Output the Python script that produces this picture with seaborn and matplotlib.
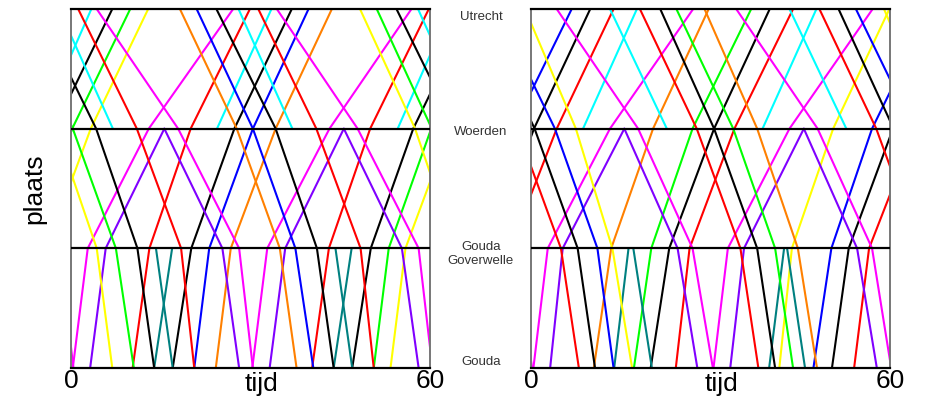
import matplotlib
matplotlib.use("Agg")
import matplotlib.pyplot as plt
import numpy as np
import pandas as pd
import seaborn as sns

# ---------------- data ----------------
# station index: 0 = Gouda, 1 = Gouda Goverwelle, 2 = Woerden, 3 = Utrecht
STATION_LABELS = ["Gouda", "Gouda\nGoverwelle", "Woerden", "Utrecht"]
TIME_TICKS = [0, 60]
TIME_TICK_LABELS = ["0", "60"]

COLOR_MAP = {
    "red": "#ff0000", "magenta": "#ff00ff", "purple": "#8000ff", "blue": "#0000ff",
    "black": "#000000", "cyan": "#00ffff", "green": "#00ff00", "yellow": "#ffff00",
    "orange": "#ff8000", "teal": "#008080",
}

# left panel: trains (times in minutes at successive stations, in travel order)
LEFT_COLORS = ["magenta", "purple", "red", "teal", "black", "blue", "orange", "cyan",
               "magenta", "purple", "red", "teal", "black", "green", "yellow", "cyan",
               "red", "magenta", "purple", "teal", "orange", "blue", "black", "cyan",
               "red", "magenta", "purple", "teal", "yellow", "green", "black", "cyan"]
LEFT_DIRS = ["up"] * 16 + ["down"] * 16
LEFT_START = [0, 0, 0, 0, 0, 0, 0, 2, 0, 0, 0, 0, 0, 0, 0, 2,
              3, 3, 2, 1, 3, 3, 3, 3, 3, 3, 2, 1, 3, 3, 3, 3]
LEFT_TIMES = [
    [0.3, 2.8, 13.0, 27.1], [3.2, 5.8, 15.6], [10.3, 13.1, 20.0, 29.9], [13.9, 16.9],
    [17.0, 20.1, 27.3, 36.9], [20.6, 23.1, 30.4, 39.7], [24.2, 26.7, 34.2, 43.6], [24.4, 33.5],
    [30.3, 32.8, 43.2, 56.9], [33.2, 35.8, 45.6], [40.3, 43.1, 50.0, 59.8], [43.9, 46.9],
    [47.0, 50.1, 57.2, 66.9], [50.6, 53.1, 60.2, 69.9], [53.4, 55.9, 63.3, 72.9], [54.6, 63.4],
    [1.2, 11.0, 18.4, 20.6], [4.3, 17.9, 28.1, 30.4], [15.6, 25.3, 28.1], [14.2, 17.0],
    [18.2, 27.7, 34.9, 37.7], [21.0, 30.4, 37.5, 40.5], [24.3, 34.2, 41.1, 43.9], [28.0, 37.0],
    [31.3, 41.0, 48.4, 50.6], [34.4, 47.9, 58.1, 60.4], [45.6, 55.3, 58.1], [44.2, 47.0],
    [48.3, 57.5, 64.3, 66.9], [51.1, 60.3, 67.5, 70.5], [54.4, 64.2, 71.1, 73.9], [58.0, 67.0],
]

# right panel
RIGHT_COLORS = ["magenta", "purple", "orange", "teal", "green", "black", "red", "cyan",
                "magenta", "purple", "yellow", "teal", "blue", "black", "red", "cyan",
                "yellow", "magenta", "purple", "cyan", "teal", "red", "black", "green",
                "orange", "magenta", "purple", "cyan", "teal", "red", "black", "blue"]
RIGHT_DIRS = ["up"] * 16 + ["down"] * 16
RIGHT_START = [0, 0, 0, 0, 0, 0, 0, 2, 0, 0, 0, 0, 0, 0, 0, 2,
               3, 3, 2, 3, 1, 3, 3, 3, 3, 3, 2, 3, 1, 3, 3, 3]
RIGHT_TIMES = [
    [0.4, 2.8, 13.2, 27.1], [3.2, 5.3, 15.6], [10.5, 13.4, 20.4, 29.7], [13.9, 16.3],
    [17.2, 20.1, 27.0, 36.8], [20.0, 23.1, 30.6, 39.9], [24.2, 26.5, 34.0, 43.8], [8.7, 17.7],
    [30.5, 32.9, 43.2, 57.1], [33.3, 35.6, 45.6], [41.5, 43.6, 50.5, 59.9], [39.8, 42.3],
    [47.2, 50.2, 57.0, 66.8], [50.3, 53.1, 60.5, 69.9], [54.0, 56.5, 64.3, 73.8], [38.7, 47.7],
    [59.0, 67.5, 73.6, 76.9], [4.3, 17.9, 27.0, 30.4], [15.6, 24.5, 27.8], [13.2, 22.7],
    [17.1, 20.2], [18.2, 27.7, 35.0, 38.0], [21.6, 30.6, 37.8, 40.8], [24.3, 33.8, 40.8, 43.8],
    [29.0, 37.8, 44.6, 47.8], [34.3, 47.9, 57.0, 60.2], [45.6, 54.5, 57.8], [43.2, 52.7],
    [42.8, 45.8], [48.2, 57.7, 65.0, 68.0], [51.4, 60.6, 67.8, 70.7], [54.3, 64.0, 71.1, 73.8],
]


def build_frame(colors, dirs, starts, times):
    rows, palette = [], {}
    for i, (c, d, s, tt) in enumerate(zip(colors, dirs, starts, times)):
        step = 1 if d == "up" else -1
        for k, shift in enumerate((-60, 0, 60)):
            key = f"{i}_{k}"
            palette[key] = COLOR_MAP[c]
            for j, t in enumerate(tt):
                rows.append((key, t + shift, s + step * j))
    return pd.DataFrame(rows, columns=["seg", "tijd", "plaats"]), palette


sns.set_theme(style="white")
plt.rcParams["font.family"] = ["Liberation Sans", "DejaVu Sans"]
plt.rcParams["text.color"] = "black"
plt.rcParams["xtick.color"] = "black"
plt.rcParams["axes.labelcolor"] = "black"

fig = plt.figure(figsize=(9.39, 4.07), dpi=100)
W, H = 939, 407
axL = fig.add_axes([71 / W, 1 - 368 / H, 359 / W, 359 / H])
axR = fig.add_axes([531 / W, 1 - 368 / H, 359 / W, 359 / H])

for ax, (cols, dirs, starts, times) in (
    (axL, (LEFT_COLORS, LEFT_DIRS, LEFT_START, LEFT_TIMES)),
    (axR, (RIGHT_COLORS, RIGHT_DIRS, RIGHT_START, RIGHT_TIMES)),
):
    df, pal = build_frame(cols, dirs, starts, times)
    sns.lineplot(data=df, x="tijd", y="plaats", hue="seg", palette=pal,
                 estimator=None, sort=False, legend=False, linewidth=1.5, ax=ax)
    ax.set_xlim(0, 60)
    ax.set_ylim(0, 3)
    for yv in (1, 2):
        ax.axhline(yv, color="black", lw=1.6, zorder=5)
    ax.set_yticks([])
    ax.set_xticks(TIME_TICKS)
    ax.set_xticklabels(TIME_TICK_LABELS, fontsize=19, color="black")
    ax.tick_params(axis="x", length=0, pad=1, colors="black")
    ax.set_xlabel("")
    ax.set_ylabel("")
    for side in ("top", "bottom"):
        ax.spines[side].set_color("black")
        ax.spines[side].set_linewidth(1.6)
        ax.spines[side].set_zorder(6)
    for side in ("left", "right"):
        ax.spines[side].set_color("#777777")
        ax.spines[side].set_linewidth(1.4)
    ax.text(0.53, -0.065, "tijd", transform=ax.transAxes, ha="center",
            va="baseline", fontsize=19, color="black")

axL.set_ylabel("plaats", fontsize=19, labelpad=18, color="black")

# station labels between the panels
label_y_px = {0: 362, 1: 254, 2: 132, 3: 17}
for idx, name in enumerate(STATION_LABELS):
    fig.text(481 / W, 1 - label_y_px[idx] / H, name, ha="center", va="center",
             fontsize=9.5, color="#333333", linespacing=1.3)

fig.savefig("out.png", dpi=100)
